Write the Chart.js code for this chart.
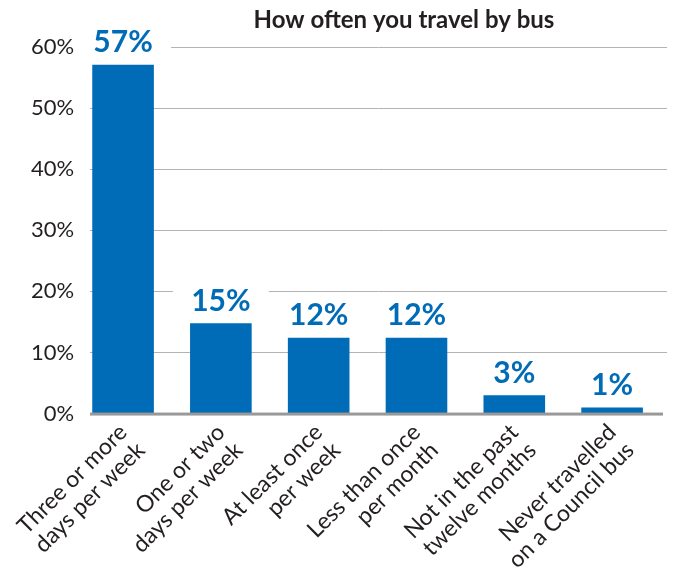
<!DOCTYPE html>
<html>
<head>
<meta charset="utf-8">
<script src="https://cdn.jsdelivr.net/npm/chart.js@4.4.1/dist/chart.umd.min.js"></script>
<style>
  html, body { margin: 0; padding: 0; background: #fff; }
  #wrap { width: 673px; height: 576px; }
</style>
</head>
<body>
<div id="wrap"><canvas id="busChart" width="673" height="576"></canvas></div>
<script>
const chartTitle = 'How often you travel by bus';
const categories = [
    ['Three or more', 'days per week'],
    ['One or two', 'days per week'],
    ['At least once', 'per week'],
    ['Less than once', 'per month'],
    ['Not in the past', 'twelve months'],
    ['Never travelled', 'on a Council bus']
];
const percentValues = [57.1, 14.8, 12.4, 12.4, 3.0, 1.0];
const yTicks = [0, 10, 20, 30, 40, 50, 60];

const BLUE = '#006bb6';
const FONT = 'Lato, "Open Sans", sans-serif';

// gridlines + heavy baseline, drawn before the bars
const gridPlugin = {
    id: 'gridLines',
    beforeDatasetsDraw(chart) {
        const { ctx, scales: { y } } = chart;
        ctx.save();
        ctx.strokeStyle = '#b3b3b3';
        ctx.lineWidth = 1;
        yTicks.forEach(v => {
            if (v === 0) return;
            const py = Math.round(y.getPixelForValue(v)) + 0.5;
            ctx.beginPath();
            ctx.moveTo(90, py);
            ctx.lineTo(667, py);
            ctx.stroke();
        });
        ctx.restore();
    },
    afterDatasetsDraw(chart) {
        const { ctx, scales: { y } } = chart;
        const py = y.getPixelForValue(0);
        ctx.save();
        ctx.fillStyle = '#999999';
        ctx.fillRect(90, py - 1, 573, 3);
        ctx.restore();
    }
};

// value labels on white boxes that cut the gridlines
const labelPlugin = {
    id: 'valueLabels',
    afterDatasetsDraw(chart) {
        const { ctx } = chart;
        const meta = chart.getDatasetMeta(0);
        ctx.save();
        meta.data.forEach((bar, i) => {
            const top = bar.y;
            ctx.fillStyle = '#ffffff';
            ctx.fillRect(bar.x - 48, top - 42, 96, 39);
            ctx.fillStyle = BLUE;
            ctx.font = 'bold 30px ' + FONT;
            ctx.textAlign = 'center';
            ctx.textBaseline = 'middle';
            ctx.fillText(Math.round(percentValues[i]) + '%', bar.x, top - 22);
        });
        ctx.restore();
    }
};

const titlePlugin = {
    id: 'offsetTitle',
    afterDraw(chart) {
        const { ctx } = chart;
        ctx.save();
        ctx.fillStyle = '#231f20';
        ctx.font = 'bold 24px ' + FONT;
        ctx.textAlign = 'center';
        ctx.textBaseline = 'middle';
        ctx.fillText(chartTitle, 404, 20);
        ctx.restore();
    }
};

new Chart(document.getElementById('busChart').getContext('2d'), {
    type: 'bar',
    data: {
        labels: categories,
        datasets: [{
            data: percentValues,
            backgroundColor: BLUE,
            barPercentage: 0.63,
            categoryPercentage: 1.0
        }]
    },
    options: {
        responsive: false,
        animation: false,
        layout: { padding: { top: 47, right: 12, left: 31, bottom: -3 } },
        plugins: {
            legend: { display: false },
            tooltip: { enabled: false }
        },
        scales: {
            x: {
                grid: { display: false, drawTicks: false },
                border: { display: false },
                ticks: {
                    color: '#231f20',
                    font: { family: FONT, size: 23, lineHeight: 1.1 },
                    minRotation: 45,
                    maxRotation: 45,
                    padding: 6,
                    autoSkip: false
                }
            },
            y: {
                min: 0,
                max: 60,
                grid: { display: false, drawTicks: false },
                border: { display: false },
                afterBuildTicks(axis) {
                    axis.ticks = yTicks.map(v => ({ value: v }));
                },
                ticks: {
                    color: '#231f20',
                    font: { family: FONT, size: 22 },
                    padding: 0,
                    callback: v => v + '%'
                }
            }
        }
    },
    plugins: [gridPlugin, labelPlugin, titlePlugin]
});
</script>
</body>
</html>
